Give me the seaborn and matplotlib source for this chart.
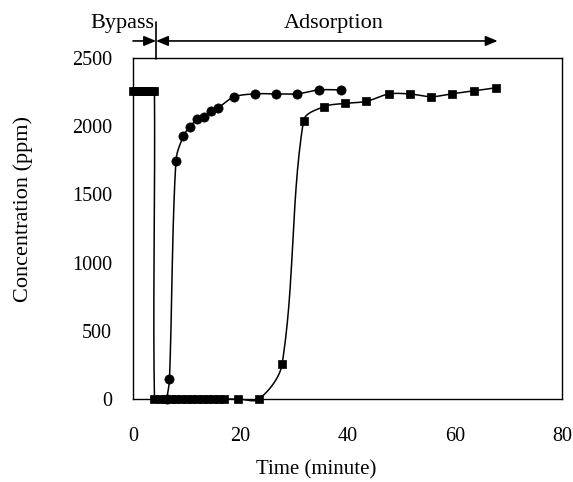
import numpy as np
import matplotlib
matplotlib.use("Agg")
import matplotlib.pyplot as plt
import seaborn as sns

# ---- data ----
# circle series (fast breakthrough)
time_circle = [6.3, 6.8, 8.0, 9.4, 10.6, 12.0, 13.3, 14.5, 15.9, 18.8, 22.7, 26.6, 30.6, 34.6, 38.8]
conc_circle = [0, 144, 1745, 1928, 1996, 2051, 2071, 2112, 2136, 2214, 2237, 2237, 2237, 2266, 2266]

# square series (bypass then slow breakthrough)
time_square = [0, 0.5, 1, 1.5, 2, 2.5, 3, 3.5, 4,
               4, 5, 6, 7, 8, 9, 10, 11, 12, 13, 14, 15, 16, 17,
               19.5, 23.5, 27.8, 31.8, 35.6, 39.5, 43.5, 47.7, 51.7, 55.6, 59.5, 63.5, 67.7]
conc_square = [2260, 2260, 2260, 2260, 2260, 2260, 2260, 2260, 2260,
               0, 0, 0, 0, 0, 0, 0, 0, 0, 0, 0, 0, 0, 0,
               0, 0, 256, 2040, 2143, 2167, 2182, 2236, 2236, 2216, 2238, 2258, 2282]

x_ticks = [0, 20, 40, 60, 80]
y_ticks = [0, 500, 1000, 1500, 2000, 2500]

bypass_end = 4.3
adsorption_end = 68
arrow_y = 2625

sns.set_theme(style="white")
plt.rcParams['font.family'] = ['Liberation Serif', 'DejaVu Serif']

fig = plt.figure(figsize=(5.73, 4.82), dpi=100)
ax = fig.add_axes([133/573, 1-399/482, 429/573, 341/482])

XS, YS = 429/80, 341/2500  # pixel scale used for the smoothing


def smooth(xs, ys, n=30):
    """Spreadsheet-style smoothed line: Bezier with chord-weighted tangents."""
    P = np.column_stack([np.asarray(xs, float)*XS, np.asarray(ys, float)*YS])
    m = len(P)
    L = np.linalg.norm(np.diff(P, axis=0), axis=1)
    T = np.zeros_like(P)
    for i in range(m):
        a = P[i-1] if i > 0 else P[i]
        b = P[i+1] if i < m-1 else P[i]
        T[i] = b - a
    out = []
    for i in range(m-1):
        Lp = L[i-1] if i > 0 else 0.0
        Ln = L[i+1] if i+1 < m-1 else 0.0
        d1 = Lp + L[i]
        d2 = L[i] + Ln
        c1 = P[i] + (T[i]*L[i]/d1/3 if d1 > 0 else 0)
        c2 = P[i+1] - (T[i+1]*L[i]/d2/3 if d2 > 0 else 0)
        t = np.linspace(0, 1, n)[:, None]
        seg = (1-t)**3*P[i] + 3*(1-t)**2*t*c1 + 3*(1-t)*t**2*c2 + t**3*P[i+1]
        out.append(seg if i == 0 else seg[1:])
    Q = np.vstack(out)
    return Q[:, 0]/XS, Q[:, 1]/YS


for xs, ys, mk, ms in [(time_circle, conc_circle, 'o', 44), (time_square, conc_square, 's', 34)]:
    sx, sy = smooth(xs, ys)
    ax.plot(sx, sy, color='black', lw=1.1, clip_on=False, zorder=2)
    sns.scatterplot(x=xs, y=ys, marker=mk, s=ms, color='black', edgecolor='black',
                    linewidth=0.5, ax=ax, clip_on=False, zorder=3, legend=False)

ax.set_xlim(0, 80)
ax.set_ylim(0, 2500)
ax.set_xticks(x_ticks)
ax.set_yticks(y_ticks)
ax.tick_params(direction='in', length=5, width=1, colors='black', labelsize=14.5)
ax.tick_params(axis='x', pad=20)
ax.tick_params(axis='y', pad=15)
for s in ax.spines.values():
    s.set_color('black')
    s.set_linewidth(1)
ax.set_xlabel('Time (minute)', fontsize=15, color='black')
ax.set_ylabel('Concentration (ppm)', fontsize=16, color='black')
ax.xaxis.set_label_coords(0.427, -0.179)
ax.yaxis.set_label_coords(-0.233, 0.557)

# annotations above the axes
ap = dict(arrowstyle='-|>,head_length=0.6,head_width=0.25', color='black', lw=1.2,
          shrinkA=0, shrinkB=0)
ax.annotate('', xy=(bypass_end, arrow_y), xytext=(0, arrow_y), arrowprops=ap, annotation_clip=False)
ap2 = dict(ap)
ap2['arrowstyle'] = '<|-|>,head_length=0.6,head_width=0.25'
ax.annotate('', xy=(adsorption_end, arrow_y), xytext=(bypass_end, arrow_y), arrowprops=ap2,
            annotation_clip=False)
ax.plot([bypass_end, bypass_end], [2493, 2764], color='black', lw=1.2, clip_on=False)
ax.text(-2, 2720, 'Bypass', ha='center', va='baseline', fontsize=16, color='black')
ax.text(37.5, 2720, 'Adsorption', ha='center', va='baseline', fontsize=16, color='black')

fig.savefig('out.png', dpi=100)
